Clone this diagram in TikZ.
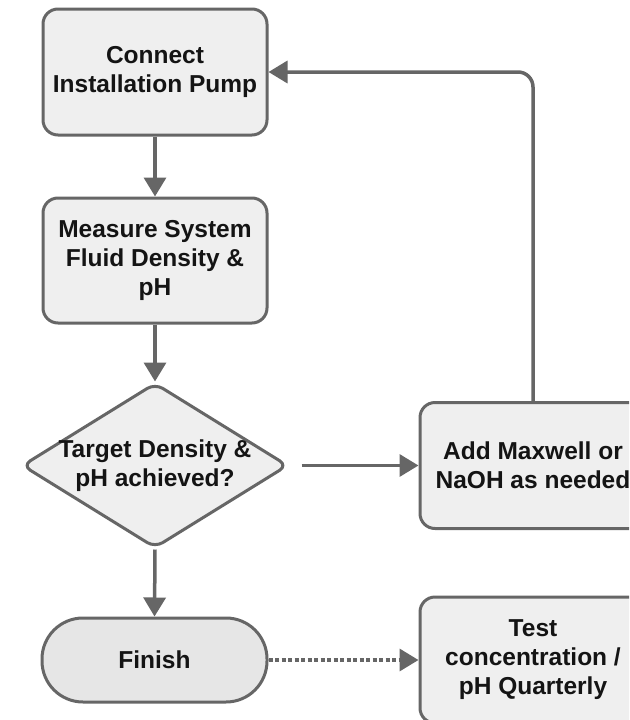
\documentclass[tikz,border=0pt]{standalone}
\usepackage{fontspec}
\setmainfont{Liberation Sans}
\usetikzlibrary{arrows.meta,shapes.geometric}
\definecolor{edgegray}{HTML}{666666}
\definecolor{boxfill}{HTML}{EFEFEF}
\definecolor{termfill}{HTML}{E6E6E6}
\definecolor{txt}{HTML}{141414}
\tikzset{
  lbl/.style={align=center, text=txt, font=\bfseries\fontsize{24.5}{29}\selectfont},
  procbox/.style={lbl, draw=edgegray, line width=3pt, fill=boxfill, rounded corners=15pt,
    minimum width=224pt, minimum height=126pt, inner sep=0pt},
  decbox/.style={lbl, draw=edgegray, line width=3pt, fill=boxfill, diamond, rounded corners=9pt,
    minimum width=266pt, minimum height=165pt, aspect=1.61, inner sep=0pt},
  termbox/.style={lbl, draw=edgegray, line width=3pt, fill=termfill, rounded corners=41pt,
    minimum width=225pt, minimum height=84pt, inner sep=0pt},
  flow/.style={draw=edgegray, line width=3.5pt, -{Triangle[length=19pt,width=22pt]}},
}
\begin{document}
\begin{tikzpicture}[x=1pt,y=-1pt]
\useasboundingbox (0,0) rectangle (629,720);
\clip (0,0) rectangle (629,720);
\node[procbox] (connect) at (155,72) {Connect\\Installation Pump};
\node[procbox, minimum height=125pt] (measure) at (155,260.5) {Measure System\\Fluid Density \&\\pH};
\node[decbox] (target) at (155,465.5) {\makebox[150pt]{Target Density \&}\\\makebox[150pt]{pH achieved?}};
\node[termbox] (finish) at (154.5,660) {Finish};
\node[procbox, minimum width=226pt] (add) at (533,465.5) {Add Maxwell or\\NaOH as needed};
\node[procbox, minimum width=226pt] (test) at (533,660) {Test\\concentration /\\pH Quarterly};
\draw[flow] (connect.south) -- (measure.north);
\draw[flow] (measure.south) -- (target.north);
\draw[flow] (target.south) -- (finish.north);
\draw[flow, shorten <=12pt] (target.east) -- (add.west);
\draw[flow, rounded corners=15pt] (add.north) -- (add.north |- connect.east) -- (connect.east);
\draw[flow, dash pattern=on 4pt off 2.5pt, line width=3.5pt] (finish.east) -- (test.west);
\end{tikzpicture}
\end{document}
